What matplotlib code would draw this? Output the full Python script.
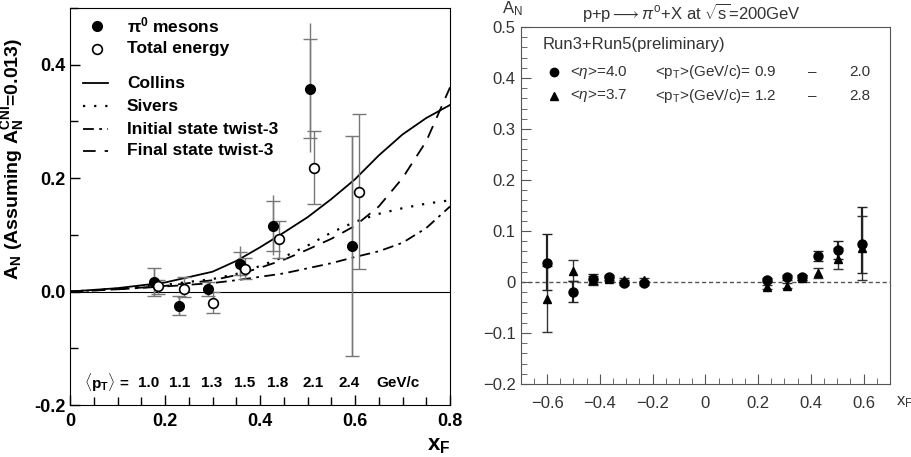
import numpy as np
import matplotlib
matplotlib.use("Agg")
import matplotlib.pyplot as plt
from matplotlib.lines import Line2D
from matplotlib.ticker import MultipleLocator, FuncFormatter

plt.rcParams['font.family'] = ['Liberation Sans', 'DejaVu Sans']
plt.rcParams['mathtext.fontset'] = 'custom'
plt.rcParams['mathtext.rm'] = 'Liberation Sans'
plt.rcParams['mathtext.it'] = 'Liberation Sans:italic'
plt.rcParams['mathtext.bf'] = 'Liberation Sans:bold'

# ---- left panel: A_N vs x_F ----
pi0_x = [0.177, 0.229, 0.291, 0.357, 0.428, 0.505, 0.594]
pi0_y = [0.017, -0.025, 0.005, 0.048, 0.116, 0.357, 0.080]
pi0_top = [0.042, -0.008, 0.017, 0.080, 0.170, 0.474, 0.274]    # full error bar ends
pi0_bot = [-0.008, -0.041, -0.008, 0.025, 0.065, 0.246, -0.114]
pi0_cap_top = [0.042, -0.008, 0.017, 0.069, 0.160, 0.445, 0.274]  # capped (stat) ends
pi0_cap_bot = [-0.008, -0.041, -0.008, 0.030, 0.072, 0.271, -0.114]

tot_x = [0.186, 0.239, 0.302, 0.368, 0.439, 0.514, 0.608]
tot_y = [0.009, 0.004, -0.021, 0.039, 0.093, 0.218, 0.176]
tot_top = [0.020, 0.025, 0.000, 0.060, 0.125, 0.283, 0.313]
tot_bot = [-0.004, -0.010, -0.037, 0.022, 0.060, 0.154, 0.039]

curve_x = [0.0, 0.1, 0.2, 0.3, 0.35, 0.4, 0.45, 0.5, 0.55, 0.6, 0.65, 0.7, 0.75, 0.8]
collins = [0.0, 0.006, 0.016, 0.035, 0.054, 0.078, 0.104, 0.131, 0.163, 0.198, 0.240, 0.277, 0.306, 0.329]
sivers = [0.0, 0.005, 0.012, 0.022, 0.031, 0.045, 0.061, 0.081, 0.104, 0.123, 0.137, 0.147, 0.155, 0.161]
initial_tw3 = [0.0, 0.004, 0.009, 0.015, 0.020, 0.026, 0.032, 0.041, 0.050, 0.061, 0.071, 0.086, 0.112, 0.150]
final_tw3 = [0.0, 0.004, 0.010, 0.020, 0.029, 0.042, 0.056, 0.074, 0.093, 0.116, 0.150, 0.200, 0.265, 0.360]

pt_labels = ['1.0', '1.1', '1.3', '1.5', '1.8', '2.1', '2.4']
pt_pos = [0.208, 0.289, 0.373, 0.46, 0.547, 0.639, 0.734]

# ---- right panel: A_N vs x_F, two eta bins ----
c_x = [-0.6, -0.5, -0.426, -0.365, -0.307, -0.233, 0.234, 0.31, 0.365, 0.427, 0.503, 0.595]
c_y = [0.038, -0.019, 0.005, 0.009, -0.001, -0.002, 0.004, 0.009, 0.009, 0.051, 0.063, 0.074]
c_lo = [0.054, 0.020, 0.011, 0.005, 0.004, 0.004, 0.004, 0.005, 0.005, 0.009, 0.018, 0.056]
c_hi = [0.056, 0.020, 0.011, 0.005, 0.004, 0.004, 0.004, 0.005, 0.005, 0.009, 0.018, 0.074]

t_x = [-0.6, -0.5, -0.426, -0.365, -0.307, -0.233, 0.234, 0.31, 0.365, 0.427, 0.503, 0.595]
t_y = [-0.034, 0.022, 0.004, 0.005, 0.004, 0.004, -0.009, -0.007, 0.008, 0.018, 0.046, 0.067]
t_err = [0.065, 0.021, 0.008, 0.004, 0.004, 0.004, 0.004, 0.005, 0.005, 0.010, 0.021, 0.063]

fig = plt.figure(figsize=(9.12, 4.57), dpi=100)

# ================= left =================
ax = fig.add_axes([70 / 912, 1 - 405 / 457, 380 / 912, 397 / 457])
ax.set_xlim(0, 0.8)
ax.set_ylim(-0.2, 0.5)
ax.axhline(0, color='black', lw=0.8)

ax.plot(curve_x, collins, '-', color='black', lw=1.3)
ax.plot(curve_x, sivers, color='black', lw=1.6, linestyle=(0, (1, 4)))
ax.plot(curve_x, initial_tw3, color='black', lw=1.3, linestyle=(0, (6, 3, 1.5, 3)))
ax.plot(curve_x, final_tw3, color='black', lw=1.3, linestyle=(0, (7, 5)))

gray = '#777777'
pi0_y_a = np.array(pi0_y)
ax.errorbar(pi0_x, pi0_y, yerr=[pi0_y_a - pi0_bot, np.array(pi0_top) - pi0_y_a],
            fmt='none', ecolor=gray, elinewidth=1.0, capsize=0)
ax.errorbar(pi0_x, pi0_y, yerr=[pi0_y_a - pi0_cap_bot, np.array(pi0_cap_top) - pi0_y_a],
            fmt='none', ecolor=gray, elinewidth=1.0, capsize=5)
tot_y_a = np.array(tot_y)
ax.errorbar(tot_x, tot_y, yerr=[tot_y_a - tot_bot, np.array(tot_top) - tot_y_a],
            fmt='none', ecolor=gray, elinewidth=1.0, capsize=5)
ax.plot(pi0_x, pi0_y, 'o', color='black', ms=7, zorder=5)
ax.plot(tot_x, tot_y, 'o', mfc='white', mec='black', mew=1.2, ms=7, zorder=5)

ax.xaxis.set_major_locator(MultipleLocator(0.2))
ax.xaxis.set_minor_locator(MultipleLocator(0.05))
ax.yaxis.set_major_locator(MultipleLocator(0.2))
ax.yaxis.set_minor_locator(MultipleLocator(0.1))
ax.xaxis.set_major_formatter(FuncFormatter(lambda v, p: '0' if abs(v) < 1e-9 else f'{v:.1f}'))
ax.yaxis.set_major_formatter(FuncFormatter(lambda v, p: f'{v:.1f}'))
ax.tick_params(which='both', direction='in', labelsize=13)
ax.tick_params(which='major', length=7, width=1)
ax.tick_params(which='minor', length=6, width=1)
ax.tick_params(axis='x', pad=6)
for lab in ax.get_xticklabels() + ax.get_yticklabels():
    lab.set_fontweight('bold')

ax.set_ylabel(r'$\mathbf{A_N}$ (Assuming $\mathbf{A_N^{CNI}}$=0.013)', fontsize=14,
              fontweight='bold', labelpad=2)
ax.yaxis.set_label_coords(-0.115, 0.62)
ax.set_xlabel(r'$\mathbf{x_F}$', fontsize=16, fontweight='bold')
ax.xaxis.set_label_coords(0.97, -0.075)

# legend drawn by hand
leg_rows = [0.955, 0.897, 0.811, 0.753, 0.695, 0.640]
ax.plot([0.071], [leg_rows[0]], 'o', color='black', ms=7, transform=ax.transAxes, clip_on=False)
ax.plot([0.071], [leg_rows[1]], 'o', mfc='white', mec='black', mew=1.2, ms=7,
        transform=ax.transAxes, clip_on=False)
styles = ['-', (0, (1, 4)), (0, (6, 3, 1.5, 3)), (0, (7, 5))]
for yy, ls in zip(leg_rows[2:], styles):
    ax.add_line(Line2D([0.034, 0.1], [yy, yy], color='black', lw=1.3 if ls != styles[1] else 1.6,
                       linestyle=ls, transform=ax.transAxes))
leg_labels = [r'$\mathbf{\pi^0}$ mesons', 'Total energy', 'Collins', 'Sivers',
              'Initial state twist-3', 'Final state twist-3']
for yy, lab in zip(leg_rows, leg_labels):
    ax.text(0.15, yy, lab, transform=ax.transAxes, fontsize=12.5, fontweight='bold',
            va='center', ha='left')

ax.text(0.097, 0.055, r'$\langle \mathbf{p_T} \rangle$ =', transform=ax.transAxes,
        fontsize=11, fontweight='bold', ha='center', va='center')
for xx, lab in zip(pt_pos, pt_labels):
    ax.text(xx, 0.055, lab, transform=ax.transAxes, fontsize=11, fontweight='bold',
            ha='center', va='center')
ax.text(0.863, 0.055, 'GeV/c', transform=ax.transAxes, fontsize=11, fontweight='bold',
        ha='center', va='center')

# ================= right =================
rc = '#333333'
bx = fig.add_axes([520.7 / 912, 1 - 384 / 457, 369.3 / 912, 357 / 457])
bx.set_xlim(-0.7, 0.7)
bx.set_ylim(-0.2, 0.5)
bx.axhline(0, color='#555555', lw=1.0, linestyle=(0, (3, 2)))

bx.errorbar(t_x, t_y, yerr=t_err, fmt='^', color='black', ms=6, elinewidth=1.0,
            ecolor='#333333', capsize=3.5, capthick=1.0)
bx.errorbar(c_x, c_y, yerr=[c_lo, c_hi], fmt='o', color='black', ms=6.5, elinewidth=1.6,
            ecolor='#222222', capsize=3.5, capthick=1.0)

for sp in bx.spines.values():
    sp.set_color('#555555')
bx.xaxis.set_major_locator(MultipleLocator(0.2))
bx.xaxis.set_minor_locator(MultipleLocator(0.05))
bx.yaxis.set_major_locator(MultipleLocator(0.1))
bx.yaxis.set_minor_locator(MultipleLocator(0.02))
bx.xaxis.set_major_formatter(FuncFormatter(lambda v, p: '0' if abs(v) < 1e-9 else f'{v:.1f}'.replace('-', '\u2212')))
bx.yaxis.set_major_formatter(FuncFormatter(lambda v, p: '0' if abs(v) < 1e-9 else f'{v:.1f}'.replace('-', '\u2212')))
bx.tick_params(which='both', direction='in', colors='#555555', labelcolor=rc, labelsize=12)
bx.tick_params(which='major', length=7)
bx.tick_params(which='minor', length=4)
bx.tick_params(axis='x', pad=9)

fig.text(905 / 912, 1 - 402 / 457, r'x$_{\rm F}$', fontsize=12, color=rc, ha='center', va='center')
fig.text(512 / 912, 1 - 9 / 457, r'A$_{\rm N}$', fontsize=12, color=rc, ha='center', va='center')
fig.text(691 / 912, 1 - 13 / 457, r'p+p$\longrightarrow\pi^{\rm o}$+X at $\sqrt{\rm s}$=200GeV',
         fontsize=12, color=rc, ha='center', va='center')

bx.text(0.06, 0.95, 'Run3+Run5(preliminary)', transform=bx.transAxes, fontsize=12,
        color=rc, ha='left', va='center')
r_rows = [0.873, 0.808]
r_marks = ['o', '^']
r_eta = ['4.0', '3.7']
r_pt_lo = ['0.9', '1.2']
r_pt_hi = ['2.0', '2.8']
for yy, mk, eta, plo, phi in zip(r_rows, r_marks, r_eta, r_pt_lo, r_pt_hi):
    bx.plot([0.09], [yy], mk, color='black', ms=6, transform=bx.transAxes)
    bx.text(0.134, yy, r'<$\eta$>=' + eta, transform=bx.transAxes, fontsize=11, color=rc,
            ha='left', va='center')
    bx.text(0.364, yy, r'<p$_{\rm T}$>(GeV/c)= ' + plo, transform=bx.transAxes, fontsize=11,
            color=rc, ha='left', va='center')
    bx.text(0.79, yy, '\u2013', transform=bx.transAxes, fontsize=11, color=rc,
            ha='center', va='center')
    bx.text(0.947, yy, phi, transform=bx.transAxes, fontsize=11, color=rc,
            ha='right', va='center')

fig.savefig('out.png', dpi=100)
